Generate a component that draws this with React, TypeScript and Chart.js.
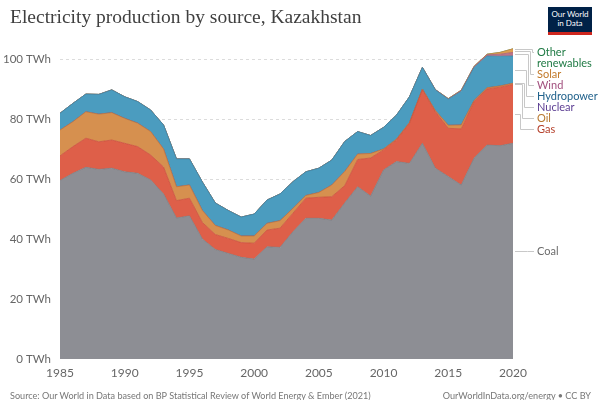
import React, { useEffect, useRef } from "react";
import { Chart, registerables } from "chart.js";

Chart.register(...registerables);

const years = [
  1985, 1986, 1987, 1988, 1989, 1990, 1991, 1992, 1993, 1994, 1995, 1996,
  1997, 1998, 1999, 2000, 2001, 2002, 2003, 2004, 2005, 2006, 2007, 2008,
  2009, 2010, 2011, 2012, 2013, 2014, 2015, 2016, 2017, 2018, 2019, 2020,
];

const coal = [
  59.5, 61.9, 63.9, 63.2, 63.6, 62.4, 61.9, 59.7, 55.0, 47.0, 47.7, 40.0,
  36.5, 35.2, 33.9, 33.3, 37.4, 37.2, 42.4, 46.9, 46.9, 46.3, 52.0, 57.4,
  54.3, 63.0, 65.8, 65.2, 71.9, 63.6, 60.8, 58.0, 67.0, 71.3, 71.1, 71.9,
];
const gas = [
  8.2, 8.9, 9.7, 9.2, 9.4, 9.5, 8.9, 8.3, 9.0, 5.8, 5.9, 5.5,
  5.0, 5.0, 4.9, 5.3, 5.6, 6.4, 6.2, 6.7, 7.0, 7.8, 5.8, 9.1,
  12.7, 6.7, 7.2, 13.3, 17.8, 18.8, 16.1, 18.7, 18.8, 18.7, 19.5, 19.6,
];
const oil = [
  8.6, 8.3, 8.8, 9.2, 9.1, 8.3, 7.8, 7.8, 6.0, 4.6, 4.4, 4.0,
  3.0, 2.8, 2.2, 2.4, 2.2, 2.5, 1.6, 0.9, 1.6, 3.9, 4.7, 1.8,
  1.5, 0.3, 0.3, 0.3, 0.3, 0.4, 1.0, 1.3, 0.4, 0.4, 0.4, 0.4,
];
const nuclear = [
  0, 0, 0, 0, 0, 0, 0, 0, 0, 0, 0, 0,
  0, 0, 0, 0, 0, 0, 0, 0, 0, 0, 0, 0,
  0, 0, 0, 0, 0, 0, 0, 0, 0, 0, 0, 0,
];
const hydropower = [
  5.6, 6.1, 5.9, 6.6, 7.6, 7.2, 7.2, 7.2, 8.0, 9.3, 8.7, 9.5,
  7.5, 6.5, 6.3, 7.3, 7.8, 8.9, 8.9, 7.9, 8.1, 8.3, 10.0, 7.5,
  6.0, 7.2, 8.0, 8.6, 7.2, 6.9, 8.7, 11.2, 11.0, 10.6, 9.9, 9.1,
];
const wind = [
  0, 0, 0, 0, 0, 0, 0, 0, 0, 0, 0, 0,
  0, 0, 0, 0, 0, 0, 0, 0, 0, 0, 0, 0,
  0, 0, 0, 0, 0.01, 0.1, 0.1, 0.3, 0.3, 0.4, 0.7, 1.2,
];
const solar = [
  0, 0, 0, 0, 0, 0, 0, 0, 0, 0, 0, 0,
  0, 0, 0, 0, 0, 0, 0, 0, 0, 0, 0, 0,
  0, 0, 0, 0, 0, 0, 0.1, 0.1, 0.1, 0.2, 0.6, 1.2,
];
const otherRenewables = [
  0, 0, 0, 0, 0, 0, 0, 0, 0, 0, 0, 0,
  0, 0, 0, 0, 0, 0, 0, 0, 0, 0, 0, 0,
  0, 0, 0, 0, 0, 0, 0, 0, 0, 0, 0, 0,
];

const yTicks = [0, 20, 40, 60, 80, 100];
const xTicks = [1985, 1990, 1995, 2000, 2005, 2010, 2015, 2020];

const titleText = "Electricity production by source, Kazakhstan";
const sourceText =
  "Source: Our World in Data based on BP Statistical Review of World Energy & Ember (2021)";
const creditText = "OurWorldInData.org/energy • CC BY";

type Series = {
  name: string;
  lines: string[];
  data: number[];
  fill: string;
  border: string;
  text: string;
};

// bottom-to-top stacking order
const series: Series[] = [
  { name: "Coal", lines: ["Coal"], data: coal, fill: "#8d8e94", border: "#7b7c82", text: "#6b6b6b" },
  { name: "Gas", lines: ["Gas"], data: gas, fill: "#de5f49", border: "#c9503b", text: "#b5402b" },
  { name: "Oil", lines: ["Oil"], data: oil, fill: "#d6904f", border: "#bf7a3e", text: "#b8782f" },
  { name: "Nuclear", lines: ["Nuclear"], data: nuclear, fill: "#7b5aa6", border: "#6a4a95", text: "#5b3d92" },
  { name: "Hydropower", lines: ["Hydropower"], data: hydropower, fill: "#4b9cbf", border: "#3c88aa", text: "#21628c" },
  { name: "Wind", lines: ["Wind"], data: wind, fill: "#bf7488", border: "#a86075", text: "#a2507e" },
  { name: "Solar", lines: ["Solar"], data: solar, fill: "#df9f52", border: "#c98a3e", text: "#c27a2a" },
  { name: "Other renewables", lines: ["Other", "renewables"], data: otherRenewables, fill: "#3f9660", border: "#2f804f", text: "#1f7a44" },
];

const FONT = "Lato, 'Noto Sans', sans-serif";

const labelPlugin = {
  id: "rightLabels",
  afterDatasetsDraw(chart: any) {
    const { ctx, chartArea, scales } = chart;
    const y = scales.y;
    const last = years.length - 1;
    let cum = 0;
    const items: { s: Series; target: number }[] = [];
    series.forEach((s) => {
      const lo = cum;
      cum += s.data[last];
      items.push({ s, target: y.getPixelForValue((lo + cum) / 2) });
    });
    items.reverse();
    const lineH = 11;
    const labelX = chartArea.right + 24;
    let prevBottom = chartArea.top + 2.5;
    const placed: { s: Series; top: number; target: number }[] = [];
    items.forEach((it) => {
      const h = it.s.lines.length * lineH;
      const top = Math.max(it.target - lineH / 2, prevBottom);
      placed.push({ s: it.s, top, target: it.target });
      prevBottom = top + h;
    });
    ctx.save();
    ctx.font = `11px ${FONT}`;
    ctx.textBaseline = "middle";
    ctx.textAlign = "left";
    placed.forEach((p, i) => {
      const ly = p.top + lineH / 2;
      const elbowX = p.s.name === "Coal" ? labelX - 10 : labelX - 5 - i * 2;
      ctx.strokeStyle = "#c8c8c8";
      ctx.lineWidth = 1;
      ctx.beginPath();
      ctx.moveTo(chartArea.right + 2, Math.round(p.target) + 0.5);
      ctx.lineTo(elbowX + 0.5, Math.round(p.target) + 0.5);
      ctx.lineTo(elbowX + 0.5, Math.round(ly) + 0.5);
      ctx.lineTo(labelX - 3, Math.round(ly) + 0.5);
      ctx.stroke();
      ctx.fillStyle = p.s.text;
      p.s.lines.forEach((t, k) => {
        ctx.fillText(t, labelX, ly + k * lineH);
      });
    });
    ctx.restore();
  },
};

export default function App() {
  const canvasRef = useRef<HTMLCanvasElement>(null);

  useEffect(() => {
    const canvas = canvasRef.current;
    if (!canvas) return;
    const chart = new Chart(canvas, {
      type: "line",
      data: {
        datasets: series.map((s, i) => ({
          label: s.name,
          data: years.map((yr, k) => ({ x: yr, y: s.data[k] })),
          backgroundColor: s.fill,
          borderColor: s.border,
          borderWidth: 0.8,
          pointRadius: 0,
          tension: 0,
          fill: i === 0 ? "origin" : "-1",
        })),
      },
      options: {
        animation: false,
        responsive: false,
        events: [],
        layout: { padding: { top: 44, right: 87, bottom: 21, left: 0 } },
        plugins: {
          legend: { display: false },
          tooltip: { enabled: false },
        },
        scales: {
          x: {
            type: "linear",
            min: 1985,
            max: 2020,
            grid: { display: false, drawTicks: false },
            border: { display: false },
            afterBuildTicks: (axis: any) => {
              axis.ticks = xTicks.map((v) => ({ value: v }));
            },
            afterFit: (axis: any) => {
              axis.height = 20;
            },
            ticks: {
              padding: 7,
              color: "#666",
              font: { family: FONT, size: 12 },
              maxRotation: 0,
              autoSkip: false,
              callback: (v: any) => String(v),
            },
          },
          y: {
            type: "linear",
            stacked: true,
            min: 0,
            max: 105,
            afterBuildTicks: (axis: any) => {
              axis.ticks = yTicks.map((v) => ({ value: v }));
            },
            afterFit: (axis: any) => {
              axis.width = 60;
            },
            grid: {
              drawTicks: false,
              color: (c: any) => (c.tick && c.tick.value === 0 ? "rgba(0,0,0,0)" : "#dcdcdc"),
              lineWidth: 1,
            },
            border: { display: false, dash: [3, 3] },
            ticks: {
              padding: 9,
              color: "#666",
              font: { family: FONT, size: 11.5 },
              callback: (v: any) => `${v} TWh`,
            },
          },
        },
      },
      plugins: [labelPlugin],
    });
    return () => chart.destroy();
  }, []);

  return (
    <div
      style={{
        position: "absolute",
        left: 0,
        top: 0,
        width: 600,
        height: 400,
        overflow: "hidden",
        background: "#fff",
      }}
    >
      <canvas ref={canvasRef} width={600} height={400} style={{ position: "absolute", left: 0, top: 0, width: 600, height: 400 }} />
      <div
        style={{
          position: "absolute",
          left: 10,
          top: 5,
          fontFamily: "'Liberation Serif', 'DejaVu Serif', serif",
          fontSize: 19.5,
          lineHeight: "24px",
          color: "#3f3f3f",
          whiteSpace: "nowrap",
        }}
      >
        {titleText}
      </div>
      <div
        style={{
          position: "absolute",
          left: 548,
          top: 7,
          width: 44,
          height: 28,
          background: "#002147",
          borderBottom: "3px solid #ce261e",
          boxSizing: "border-box",
          color: "#fff",
          fontFamily: FONT,
          fontSize: 8,
          lineHeight: "9px",
          textAlign: "center",
          paddingTop: 3,
        }}
      >
        Our World
        <br />
        in Data
      </div>
      <div
        style={{
          position: "absolute",
          left: 10,
          top: 390,
          fontFamily: FONT,
          fontSize: 9.1,
          lineHeight: "12px",
          color: "#777",
          whiteSpace: "nowrap",
        }}
      >
        {sourceText}
      </div>
      <div
        style={{
          position: "absolute",
          right: 9,
          top: 390,
          fontFamily: FONT,
          fontSize: 9.1,
          lineHeight: "12px",
          color: "#777",
          whiteSpace: "nowrap",
        }}
      >
        {creditText}
      </div>
    </div>
  );
}
